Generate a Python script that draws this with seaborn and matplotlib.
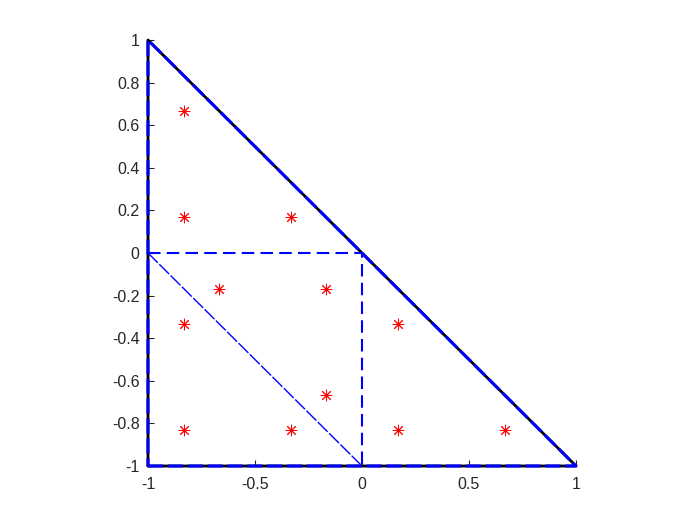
import matplotlib
matplotlib.use("Agg")
import matplotlib.pyplot as plt
import seaborn as sns
import pandas as pd

# outer triangle vertices
tri_x = [-1, 1, -1, -1]
tri_y = [-1, -1, 1, -1]

# thick dashed subdivision lines
sub_x = [-1, 0, 0]
sub_y = [0, 0, -1]

# thin dashed diagonal
diag_x = [-1, 0]
diag_y = [0, -1]

# quadrature points
pts_x = [-0.833, -0.833, -0.333, -0.667, -0.167, -0.833, 0.167, -0.167,
         -0.833, -0.333, 0.167, 0.667]
pts_y = [0.667, 0.167, 0.167, -0.167, -0.167, -0.333, -0.333, -0.667,
         -0.833, -0.833, -0.833, -0.833]

xticks = [-1, -0.5, 0, 0.5, 1]
xlabels = ["-1", "-0.5", "0", "0.5", "1"]
yticks = [-1, -0.8, -0.6, -0.4, -0.2, 0, 0.2, 0.4, 0.6, 0.8, 1]
ylabels = ["-1", "-0.8", "-0.6", "-0.4", "-0.2", "0", "0.2", "0.4", "0.6", "0.8", "1"]

sns.set_style("white")
plt.rcParams["font.family"] = ["Liberation Sans", "DejaVu Sans"]
plt.rcParams["axes.unicode_minus"] = False

fig = plt.figure(figsize=(7, 5.25), dpi=100)
ax = fig.add_axes([0.2114, 0.1124, 0.6114, 0.8114])

df_tri = pd.DataFrame({"x": tri_x, "y": tri_y})
sns.lineplot(data=df_tri, x="x", y="y", sort=False, estimator=None,
             color="black", linewidth=2, ax=ax, clip_on=False, zorder=3)
sns.lineplot(data=df_tri, x="x", y="y", sort=False, estimator=None,
             color="#0000ff", linewidth=2.2, linestyle=(0, (5, 1.5)), ax=ax,
             clip_on=False, zorder=4)
sns.lineplot(x=sub_x, y=sub_y, sort=False, estimator=None,
             color="#0000ff", linewidth=1.5, linestyle=(0, (6, 3)), ax=ax, zorder=4)
sns.lineplot(x=diag_x, y=diag_y, sort=False, estimator=None,
             color="#0000ff", linewidth=1, linestyle=(0, (10, 1.5)), ax=ax, zorder=4)
sns.scatterplot(x=pts_x, y=pts_y, marker=(8, 2, 0), s=60, color="red",
                edgecolor="red", linewidth=0.7, ax=ax, zorder=5)

ax.set_xlim(-1, 1)
ax.set_ylim(-1, 1)
ax.set_xticks(xticks)
ax.set_xticklabels(xlabels)
ax.set_yticks(yticks)
ax.set_yticklabels(ylabels)
ax.set_xlabel("")
ax.set_ylabel("")
ax.tick_params(direction="in", length=4, width=0.8, labelsize=11.5,
               colors="#262626", bottom=True, left=True, pad=6)
ax.tick_params(axis="x", pad=8)
for side in ["top", "right"]:
    ax.spines[side].set_visible(False)
for side in ["left", "bottom"]:
    ax.spines[side].set_color("#262626")
    ax.spines[side].set_linewidth(0.8)

fig.savefig("out.png", dpi=100)
